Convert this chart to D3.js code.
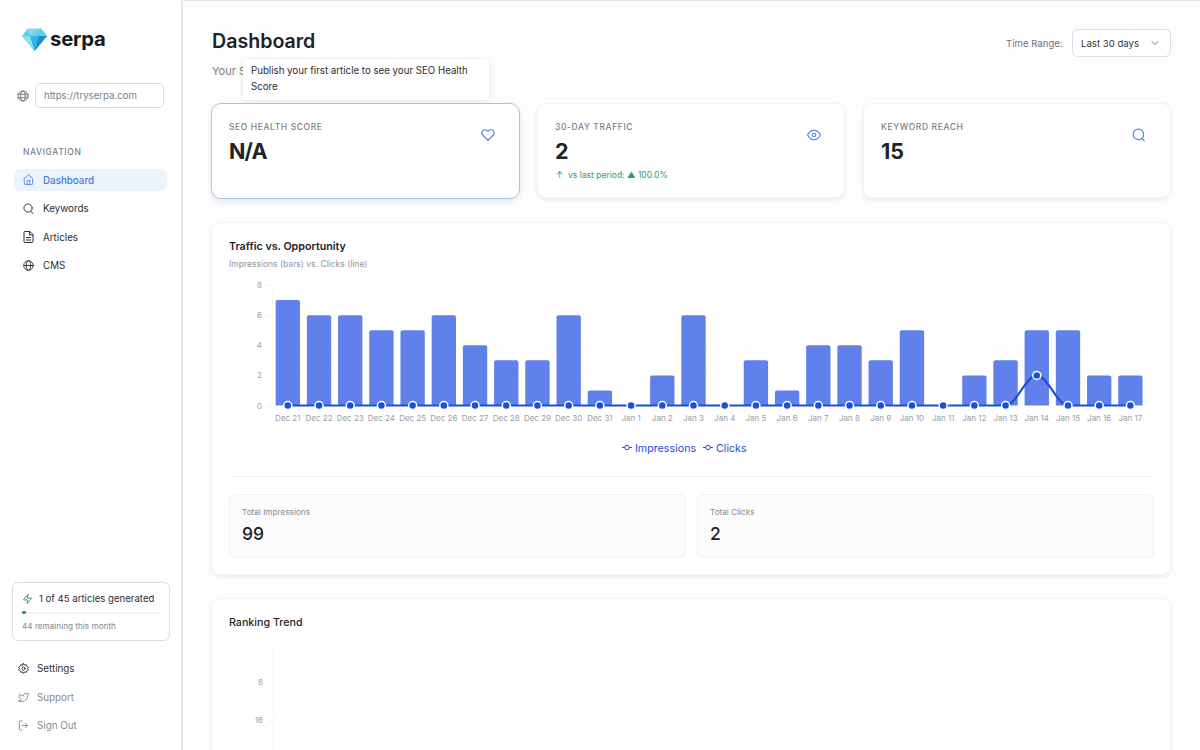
<!DOCTYPE html>
<html>
<head>
<meta charset="utf-8">
<script src="https://d3js.org/d3.v7.min.js"></script>
<style>
  * { box-sizing: border-box; }
  html, body { margin: 0; width: 1200px; height: 750px; overflow: hidden; background: #fdfdfe; font-family: Inter, sans-serif; color: #1f2328; }
  .abs { position: absolute; white-space: nowrap; line-height: 1; }
  .topline { position: absolute; left: 0; top: 0; width: 1200px; height: 1px; background: #e4e4e4; }
  .sidebar { position: absolute; left: 0; top: 0; width: 183px; height: 750px; background: #fff; border-right: 2px solid #e6e6e6; }
  .card { position: absolute; background: #fff; border-radius: 9px; border: 1px solid #f4f4f5; box-shadow: 0 2px 5px rgba(0,0,0,.07); }
  .label { font-size: 8.5px; letter-spacing: .6px; color: #7b7f86; font-weight: 500; }
  .big { font-size: 21.5px; font-weight: 700; }
  .nav { font-size: 9.8px; font-weight: 400; color: #2a2e33; }
  .stat { position: absolute; background: #fcfcfd; border: 1px solid #f2f2f3; border-radius: 6px; box-shadow: 0 1px 2px rgba(0,0,0,.05); }
  svg.icon { position: absolute; fill: none; stroke-width: 2; stroke-linecap: round; stroke-linejoin: round; overflow: visible; }
  #chart, #rank { position: absolute; left: 0; top: 0; }
  #chart text, #rank text { font-family: Inter, sans-serif; }
</style>
</head>
<body>
<div class="topline"></div>

<!-- main column -->
<div class="abs" style="left:212px;top:32px;font-size:19.6px;font-weight:600">Dashboard</div>
<div class="abs" style="left:212px;top:66px;font-size:11px;color:#7b7f86">Your S</div>
<div class="abs" style="left:1006px;top:39px;font-size:9.6px;color:#70747b">Time Range:</div>
<div class="abs" style="left:1072px;top:29px;width:99px;height:28px;border:1px solid #dcdee1;border-radius:6px;background:#fff"></div>
<div class="abs" style="left:1081px;top:39px;font-size:9.6px;color:#33373c">Last 30 days</div>
<svg class="icon" style="left:1151px;top:39px;stroke:#777;stroke-width:1" width="8" height="8" viewBox="0 0 8 8"><path d="M1 2.5l3 3 3-3"/></svg>

<div class="card" style="left:211px;top:103px;width:309px;height:96px;border:1px solid #a9c4ec;border-radius:10px;box-shadow:0 3px 6px rgba(0,0,0,.09)"></div>
<div class="abs label" style="left:229px;top:123px">SEO HEALTH SCORE</div>
<div class="abs big" style="left:229px;top:141px;letter-spacing:-.9px">N/A</div>
<svg class="icon" style="left:481px;top:128px;stroke:#4f86e0" width="14" height="14" viewBox="0 0 24 24"><path stroke-width="2" d="M20.8 4.6a5.5 5.5 0 0 0-7.800 0L12 5.700l-1-1.100a5.500 5.500 0 0 0-7.800 7.800l8.800 8.800 8.800-8.800a5.500 5.500 0 0 0 0-7.800z"/></svg>

<div class="card" style="left:537px;top:103px;width:308px;height:95px"></div>
<div class="abs label" style="left:555px;top:123px">30-DAY TRAFFIC</div>
<div class="abs big" style="left:555px;top:141px">2</div>
<div class="abs" style="left:556px;top:171px;font-size:8.5px;color:#2f9e5f"><span style="margin-right:5px">↑</span>vs last period: ▲ 100.0%</div>
<svg class="icon" style="left:807px;top:128px;stroke:#4f86e0" width="14" height="14" viewBox="0 0 24 24"><path d="M1 12s4-8 11-8 11 8 11 8-4 8-11 8-11-8-11-8z"/><circle cx="12" cy="12" r="3"/></svg>

<div class="card" style="left:863px;top:103px;width:308px;height:95px"></div>
<div class="abs label" style="left:881px;top:123px">KEYWORD REACH</div>
<div class="abs big" style="left:881px;top:141px">15</div>
<svg class="icon" style="left:1132px;top:128px;stroke:#4f86e0" width="14" height="14" viewBox="0 0 24 24"><circle cx="11" cy="11" r="9"/><path d="M21 22l-3.600-4"/></svg>

<div class="card" style="left:211px;top:222px;width:960px;height:353px"></div>
<div class="abs" style="left:229px;top:242px;font-size:10.7px;font-weight:600">Traffic vs. Opportunity</div>
<div class="abs" style="left:229px;top:260px;font-size:8.5px;color:#92969b">Impressions (bars) vs. Clicks (line)</div>
<div class="abs" style="left:229px;top:476px;width:924px;height:1px;background:#f1f1f2"></div>

<div class="stat" style="left:229px;top:494px;width:457px;height:63px"></div>
<div class="abs" style="left:242px;top:508px;font-size:8.2px;color:#85898f">Total Impressions</div>
<div class="abs" style="left:242px;top:525px;font-size:17.5px;font-weight:500">99</div>
<div class="stat" style="left:697px;top:494px;width:457px;height:63px"></div>
<div class="abs" style="left:710px;top:508px;font-size:8.2px;color:#85898f">Total Clicks</div>
<div class="abs" style="left:710px;top:525px;font-size:17.5px;font-weight:500">2</div>

<div class="card" style="left:211px;top:598px;width:960px;height:200px"></div>
<div class="abs" style="left:229px;top:618px;font-size:10.7px;font-weight:500">Ranking Trend</div>

<svg id="chart" width="1200" height="750"></svg>

<!-- tooltip -->
<div class="abs" style="left:243px;top:59px;width:246px;height:41px;background:#fff;border-radius:3px;box-shadow:0 1px 5px rgba(0,0,0,.12)"></div>
<div class="abs" style="left:251px;top:66px;font-size:9.7px;color:#2a2e33;">Publish your first article to see your SEO Health</div>
<div class="abs" style="left:251px;top:82px;font-size:9.7px;color:#2a2e33;">Score</div>

<!-- sidebar -->
<div class="sidebar"></div>
<svg style="position:absolute;left:21px;top:27px" width="27" height="25" viewBox="0 0 27 25">
  <defs><linearGradient id="gem" x1="0" y1="0" x2="1" y2="1"><stop offset="0" stop-color="#a8ecf6"/><stop offset="1" stop-color="#1f9ed6"/></linearGradient></defs>
  <path d="M7 1.5H20L26 9 13.5 24 1 9z" fill="url(#gem)"/>
  <path d="M7 1.5L9 9H1zM20 1.500L18 9H26z" fill="#62cfec"/>
  <path d="M9 9H18L13.500 24z" fill="#35b4e3"/>
  <path d="M1 9H9L13.500 24z" fill="#8be0f2"/>
  <path d="M18 9H26L13.500 24z" fill="#1b8fcb"/>
</svg>
<div class="abs" style="left:50px;top:29px;font-size:20.3px;font-weight:700;letter-spacing:-.2px;color:#17191c">serpa</div>

<svg class="icon" style="left:17px;top:90px;stroke:#777;stroke-width:1" width="12" height="12" viewBox="0 0 12 12"><circle cx="6" cy="6" r="5"/><ellipse cx="6" cy="6" rx="2.300" ry="5"/><path d="M1 4.200h10M1 7.800h10"/></svg>
<div class="abs" style="left:35px;top:83px;width:129px;height:25px;border:1px solid #dcdee1;border-radius:5px;background:#fff"></div>
<div class="abs" style="left:44px;top:91px;font-size:9.6px;color:#7b7f86">https://tryserpa.com</div>

<div class="abs label" style="left:23px;top:148px;color:#7b7f86">NAVIGATION</div>
<div class="abs" style="left:14px;top:169px;width:153px;height:22px;background:#edf3fc;border-radius:6px"></div>
<svg class="icon" style="left:23px;top:174px;stroke:#4f86e0" width="11" height="11" viewBox="0 0 24 24"><path d="M3 10l9-8 9 8v11a2 2 0 0 1-2 2H5a2 2 0 0 1-2-2z"/><path d="M9 23v-9h6v9"/></svg>
<div class="abs nav" style="left:43px;top:176px;color:#3f7bdc;font-weight:500">Dashboard</div>
<svg class="icon" style="left:23px;top:203px;stroke:#2a2e33" width="11" height="11" viewBox="0 0 24 24"><circle cx="11" cy="11" r="9"/><path d="M22 23l-4.500-5"/></svg>
<div class="abs nav" style="left:43px;top:204px">Keywords</div>
<svg class="icon" style="left:23px;top:231px;stroke:#2a2e33" width="11" height="12" viewBox="0 0 22 24"><path d="M13 1H4a2 2 0 0 0-2 2v18a2 2 0 0 0 2 2h14a2 2 0 0 0 2-2V8z"/><path d="M13 1v7h7M7 13h8M7 18h8"/></svg>
<div class="abs nav" style="left:43px;top:233px">Articles</div>
<svg class="icon" style="left:23px;top:260px;stroke:#2a2e33;stroke-width:1" width="11" height="11" viewBox="0 0 12 12"><circle cx="6" cy="6" r="5.200"/><ellipse cx="6" cy="6" rx="2.300" ry="5.200"/><path d="M1 6h10"/></svg>
<div class="abs nav" style="left:43px;top:261px">CMS</div>

<div class="abs" style="left:12px;top:582px;width:158px;height:59px;border:1px solid #dcdee1;border-radius:6px;background:#fff"></div>
<svg class="icon" style="left:22px;top:593px;stroke:#2f9e5f" width="11" height="12" viewBox="0 0 24 24"><path d="M13 2L3 14h9l-1 8 10-12h-9z"/></svg>
<div class="abs" style="left:39px;top:594px;font-size:9.6px;font-weight:400;color:#2a2e33">1 of 45 articles generated</div>
<div class="abs" style="left:22px;top:612px;width:139px;height:2px;background:#f3f4f5;border-radius:1px"></div>
<div class="abs" style="left:22px;top:611px;width:4px;height:3px;background:#2f9e5f;border-radius:1px"></div>
<div class="abs" style="left:22px;top:622px;font-size:8.2px;color:#85898f">44 remaining this month</div>

<svg class="icon" style="left:18px;top:663px;stroke:#2a2e33" width="11" height="11" viewBox="0 0 24 24"><circle cx="12" cy="12" r="3.500"/><path d="M12 1l2 3.500 4-.8 1.400 3.900L23 9.500 21 12l2 2.500-3.600 1.900L18 20.300l-4-.8-2 3.500-2-3.500-4 .8-1.400-3.900L1 14.500 3 12 1 9.500l3.600-1.900L6 3.700l4 .8z"/></svg>
<div class="abs nav" style="left:37px;top:664px">Settings</div>
<svg class="icon" style="left:18px;top:692px;stroke:#85898f" width="11" height="11" viewBox="0 0 24 24"><path d="M23 3a10.900 10.900 0 0 1-3 1.500 4.500 4.500 0 0 0-7.900 3v1A10.700 10.700 0 0 1 3 4s-4 9 5 13a11.600 11.600 0 0 1-7 2c9 5 20 0 20-11.500a4.500 4.500 0 0 0 0-.8A7.700 7.700 0 0 0 23 3z"/></svg>
<div class="abs nav" style="left:37px;top:693px;color:#85898f">Support</div>
<svg class="icon" style="left:18px;top:720px;stroke:#85898f" width="11" height="11" viewBox="0 0 24 24"><path d="M9 22H5a2 2 0 0 1-2-2V4a2 2 0 0 1 2-2h4M16 17l5-5-5-5M21 12H9"/></svg>
<div class="abs nav" style="left:37px;top:721px;color:#85898f">Sign Out</div>

<script>
// Chart data
var days = ["Dec 21","Dec 22","Dec 23","Dec 24","Dec 25","Dec 26","Dec 27","Dec 28","Dec 29","Dec 30","Dec 31",
  "Jan 1","Jan 2","Jan 3","Jan 4","Jan 5","Jan 6","Jan 7","Jan 8","Jan 9","Jan 10","Jan 11","Jan 12","Jan 13","Jan 14","Jan 15","Jan 16","Jan 17"];
var impressions = [7,6,6,5,5,6,4,3,3,6,1,0,2,6,0,3,1,4,4,3,5,0,2,3,5,5,2,2];
var clicks = [0,0,0,0,0,0,0,0,0,0,0,0,0,0,0,0,0,0,0,0,0,0,0,0,2,0,0,0];
var trafficTicks = [0,2,4,6,8];
var rankTicks = [8,16];
var legendNames = ["Impressions","Clicks"];

var svg = d3.select("#chart");

// Traffic chart
var x = d3.scaleBand().domain(days).range([272.2, 1146]).paddingInner(0.22).paddingOuter(0.11);
var y = d3.scaleLinear().domain([0, 8]).range([405.5, 285]);

var chartGroup = svg.append("g");

// faint grid
chartGroup.selectAll(".grid")
  .data(trafficTicks.slice(1))
  .enter().append("line")
  .attr("x1", 272).attr("x2", 1147)
  .attr("y1", d => y(d)).attr("y2", d => y(d))
  .attr("stroke", "#fafafb")
  .attr("stroke-dasharray", "3 3");

var leftAxis = d3.axisLeft(y).tickValues(trafficTicks).tickSize(4).tickPadding(6);
var yAxis = chartGroup.append("g").attr("transform", "translate(272,0)").call(leftAxis);
yAxis.select(".domain").attr("stroke", "#f9f9fa");
yAxis.selectAll(".tick line").attr("stroke", "#f2f2f3");
yAxis.selectAll("text").attr("fill", "#9a9ea3").style("font-size", "8px");

var bottomAxis = d3.axisBottom(x).tickSize(0).tickPadding(10);
var xAxis = chartGroup.append("g").attr("transform", "translate(0,405.5)").call(bottomAxis);
xAxis.select(".domain").remove();
xAxis.selectAll("text").attr("fill", "#9a9ea3").style("font-size", "8px");

chartGroup.selectAll(".bar")
  .data(impressions)
  .enter().append("path")
  .attr("class", "bar")
  .attr("fill", "#6080ec")
  .attr("d", function(d, i) {
    if (d === 0) return "";
    var x0 = x(days[i]), w = x.bandwidth(), t = y(d), b = y(0), r = 2;
    return `M${x0},${b}V${t + r}Q${x0},${t} ${x0 + r},${t}H${x0 + w - r}Q${x0 + w},${t} ${x0 + w},${t + r}V${b}Z`;
  });

var cx = i => x(days[i]) + x.bandwidth() / 2;
var clickLine = d3.line().x((d, i) => cx(i)).y(d => y(d)).curve(d3.curveMonotoneX);

chartGroup.append("path")
  .attr("d", clickLine(clicks))
  .attr("fill", "none")
  .attr("stroke", "#1d4ed8")
  .attr("stroke-width", 2.2);

chartGroup.selectAll(".dot")
  .data(clicks)
  .enter().append("circle")
  .attr("cx", (d, i) => cx(i))
  .attr("cy", d => y(d))
  .attr("r", 4)
  .attr("fill", "#1d4ed8")
  .attr("stroke", "#fff")
  .attr("stroke-width", 1.5);

// legend
var legendX = d3.scaleOrdinal().domain(legendNames).range([622, 703]);
var legend = svg.selectAll(".legend").data(legendNames).enter().append("g")
  .attr("transform", d => `translate(${legendX(d)},447.5)`);
legend.append("line").attr("x1", 0).attr("x2", 10).attr("stroke", "#1d4ed8").attr("stroke-width", 1);
legend.append("circle").attr("cx", 5).attr("r", 2.2).attr("fill", "#fff").attr("stroke", "#1d4ed8").attr("stroke-width", 1);
legend.append("text").attr("x", 13).attr("y", 4).attr("fill", "#1d4ed8").style("font-size", "10.7px").text(d => d);

// Ranking chart, empty except for its axis
var rankY = d3.scaleLinear().domain([1, 24]).range([648.75, 758]);
var rankGroup = svg.append("g");
rankGroup.selectAll(".rgrid")
  .data(rankTicks)
  .enter().append("line")
  .attr("x1", 273).attr("x2", 1153)
  .attr("y1", d => rankY(d)).attr("y2", d => rankY(d))
  .attr("stroke", "#fafafb")
  .attr("stroke-dasharray", "3 3");
var rankAxis = rankGroup.append("g").attr("transform", "translate(273,0)")
  .call(d3.axisLeft(rankY).tickValues(rankTicks).tickSize(4).tickPadding(6));
rankAxis.select(".domain").attr("stroke", "#f4f4f5");
rankAxis.selectAll(".tick line").attr("stroke", "#f2f2f3");
rankAxis.selectAll("text").attr("fill", "#9a9ea3").style("font-size", "8px");
</script>
</body>
</html>
